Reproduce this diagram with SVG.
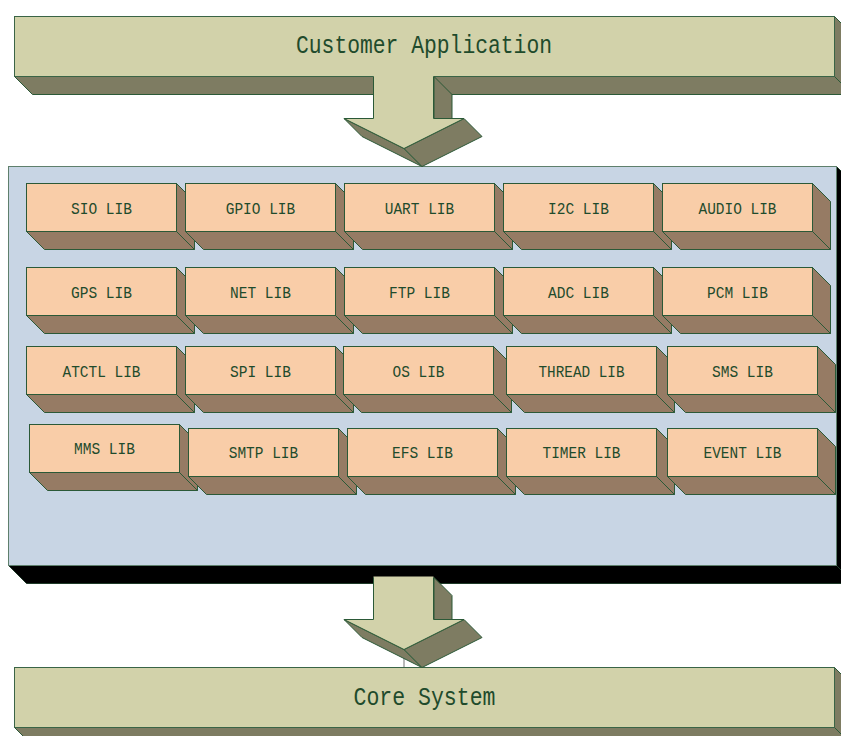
<svg xmlns="http://www.w3.org/2000/svg" xmlns:xlink="http://www.w3.org/1999/xlink" width="841" height="736" viewBox="0 0 841 736">
<style>
  .bar { fill: #D2D2AA; stroke: #3A6446; stroke-width: 1; }
  .bard { fill: #7E7C62; stroke: #2B5937; stroke-width: 1; stroke-linejoin: round; }
  .lib { fill: #F9CDA8; stroke: #2B5937; stroke-width: 1; }
  .libd { fill: #967B64; stroke: #2B5937; stroke-width: 1; stroke-linejoin: round; }
  .panel { fill: #C8D5E4; stroke: #5E7F6C; stroke-width: 1; }
  .paneld { fill: #000000; stroke: #1E3A28; stroke-width: 1; }
  .big { font-family: "Liberation Mono", "DejaVu Sans Mono", monospace; font-size: 26px; fill: #1F4B2C; text-anchor: middle; }
  .lbl { font-family: "Liberation Mono", "DejaVu Sans Mono", monospace; font-size: 17px; fill: #1F4B2C; text-anchor: middle; }
  .conn { stroke: #8A8A8A; stroke-width: 1.2; fill: none; }
</style>
<defs>
  <g id="arrow">
    <polygon class="bard" points="434,0 452,18 452,42 434,42"/>
    <polygon class="bard" points="344,42 362,60 422,90 404,72"/>
    <polygon class="bard" points="404,72 464,42 482,60 422,90"/>
    <polygon fill="#D2D2AA" stroke="none" points="373.5,-1 433.5,-1 433.5,42 464,42 404,72 344,42 373.5,42"/>
    <polyline fill="none" stroke="#2B5937" stroke-width="1" stroke-linejoin="round" points="373.5,0 373.5,42 344,42 404,72 464,42 433.5,42 433.5,0"/>
  </g>
  <g id="libbox">
    <polygon class="libd" points="0,48 18,66 168,66 150,48"/>
    <polygon class="libd" points="150,0 168,18 168,66 150,48"/>
    <rect class="lib" x="0" y="0" width="150" height="48"/>
  </g>
</defs>

<g id="customer-application">
  <polygon class="bard" points="14.5,76.5 32.5,94.5 852.5,94.5 834.5,76.5"/>
  <polygon class="bard" points="834.5,16.5 852.5,34.5 852.5,94.5 834.5,76.5"/>
  <rect class="bar" x="14.5" y="16.5" width="820" height="60"/>
  <text class="big" x="424" y="53" textLength="256" lengthAdjust="spacingAndGlyphs">Customer Application</text>
</g>

<g id="library-panel">
  <polygon class="paneld" points="8.5,565.5 26.5,583.5 854.5,583.5 836.5,565.5"/>
  <polygon class="paneld" points="836.5,166.5 854.5,184.5 854.5,583.5 836.5,565.5"/>
  <rect class="panel" x="8.5" y="166.5" width="828" height="399"/>
</g>

<g id="core-system">
  <polygon class="bard" points="14.5,727.5 32.5,745.5 852.5,745.5 834.5,727.5"/>
  <polygon class="bard" points="834.5,667.5 852.5,685.5 852.5,745.5 834.5,727.5"/>
  <rect class="bar" x="14.5" y="667.5" width="820" height="60"/>
  <text class="big" x="424.5" y="705" textLength="142" lengthAdjust="spacingAndGlyphs">Core System</text>
</g>

<g id="connectors">
  <line class="conn" x1="404" y1="649" x2="404" y2="667"/>
  <use xlink:href="#arrow" href="#arrow" transform="translate(0,76.5)"/>
  <use xlink:href="#arrow" href="#arrow" transform="translate(0,577.5)"/>
</g>

<g id="sio-lib" transform="translate(26.5,183.5)"><use href="#libbox" xlink:href="#libbox"/><text class="lbl" x="75" y="30" textLength="61" lengthAdjust="spacingAndGlyphs">SIO LIB</text></g>
<g id="gpio-lib" transform="translate(185.5,183.5)"><use href="#libbox" xlink:href="#libbox"/><text class="lbl" x="75" y="30" textLength="69.5" lengthAdjust="spacingAndGlyphs">GPIO LIB</text></g>
<g id="uart-lib" transform="translate(344.5,183.5)"><use href="#libbox" xlink:href="#libbox"/><text class="lbl" x="75" y="30" textLength="69.5" lengthAdjust="spacingAndGlyphs">UART LIB</text></g>
<g id="i2c-lib" transform="translate(503.5,183.5)"><use href="#libbox" xlink:href="#libbox"/><text class="lbl" x="75" y="30" textLength="61" lengthAdjust="spacingAndGlyphs">I2C LIB</text></g>
<g id="audio-lib" transform="translate(662.5,183.5)"><use href="#libbox" xlink:href="#libbox"/><text class="lbl" x="75" y="30" textLength="78" lengthAdjust="spacingAndGlyphs">AUDIO LIB</text></g>

<g id="gps-lib" transform="translate(26.5,267.5)"><use href="#libbox" xlink:href="#libbox"/><text class="lbl" x="75" y="30" textLength="61" lengthAdjust="spacingAndGlyphs">GPS LIB</text></g>
<g id="net-lib" transform="translate(185.5,267.5)"><use href="#libbox" xlink:href="#libbox"/><text class="lbl" x="75" y="30" textLength="61" lengthAdjust="spacingAndGlyphs">NET LIB</text></g>
<g id="ftp-lib" transform="translate(344.5,267.5)"><use href="#libbox" xlink:href="#libbox"/><text class="lbl" x="75" y="30" textLength="61" lengthAdjust="spacingAndGlyphs">FTP LIB</text></g>
<g id="adc-lib" transform="translate(503.5,267.5)"><use href="#libbox" xlink:href="#libbox"/><text class="lbl" x="75" y="30" textLength="61" lengthAdjust="spacingAndGlyphs">ADC LIB</text></g>
<g id="pcm-lib" transform="translate(662.5,267.5)"><use href="#libbox" xlink:href="#libbox"/><text class="lbl" x="75" y="30" textLength="61" lengthAdjust="spacingAndGlyphs">PCM LIB</text></g>

<g id="atctl-lib" transform="translate(26.5,346.5)"><use href="#libbox" xlink:href="#libbox"/><text class="lbl" x="75" y="30" textLength="78" lengthAdjust="spacingAndGlyphs">ATCTL LIB</text></g>
<g id="spi-lib" transform="translate(185.5,346.5)"><use href="#libbox" xlink:href="#libbox"/><text class="lbl" x="75" y="30" textLength="61" lengthAdjust="spacingAndGlyphs">SPI LIB</text></g>
<g id="os-lib" transform="translate(343.5,346.5)"><use href="#libbox" xlink:href="#libbox"/><text class="lbl" x="75" y="30" textLength="52" lengthAdjust="spacingAndGlyphs">OS LIB</text></g>
<g id="thread-lib" transform="translate(506.5,346.5)"><use href="#libbox" xlink:href="#libbox"/><text class="lbl" x="75" y="30" textLength="86" lengthAdjust="spacingAndGlyphs">THREAD LIB</text></g>
<g id="sms-lib" transform="translate(667.5,346.5)"><use href="#libbox" xlink:href="#libbox"/><text class="lbl" x="75" y="30" textLength="61" lengthAdjust="spacingAndGlyphs">SMS LIB</text></g>

<g id="mms-lib" transform="translate(29.5,424.5)"><use href="#libbox" xlink:href="#libbox"/><text class="lbl" x="75" y="29" textLength="61" lengthAdjust="spacingAndGlyphs">MMS LIB</text></g>
<g id="smtp-lib" transform="translate(188.5,428.5)"><use href="#libbox" xlink:href="#libbox"/><text class="lbl" x="75" y="29" textLength="69.5" lengthAdjust="spacingAndGlyphs">SMTP LIB</text></g>
<g id="efs-lib" transform="translate(347.5,428.5)"><use href="#libbox" xlink:href="#libbox"/><text class="lbl" x="75" y="29" textLength="61" lengthAdjust="spacingAndGlyphs">EFS LIB</text></g>
<g id="timer-lib" transform="translate(506.5,428.5)"><use href="#libbox" xlink:href="#libbox"/><text class="lbl" x="75" y="29" textLength="78" lengthAdjust="spacingAndGlyphs">TIMER LIB</text></g>
<g id="event-lib" transform="translate(667.5,428.5)"><use href="#libbox" xlink:href="#libbox"/><text class="lbl" x="75" y="29" textLength="78" lengthAdjust="spacingAndGlyphs">EVENT LIB</text></g>
</svg>
